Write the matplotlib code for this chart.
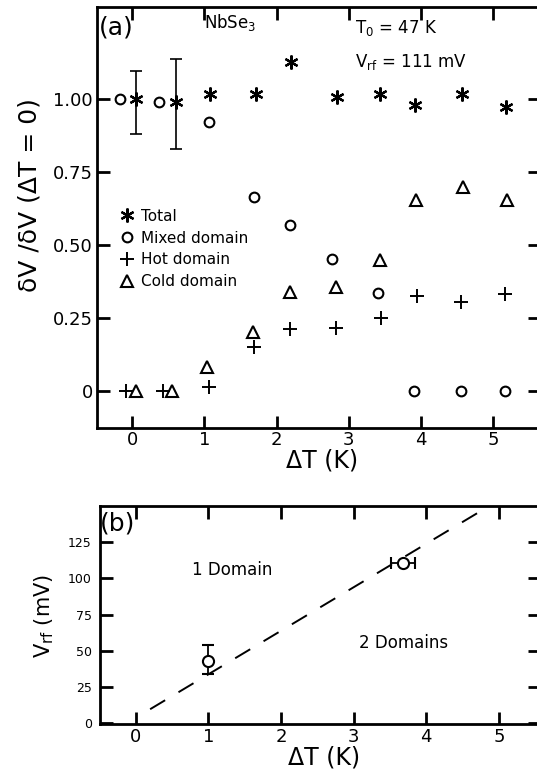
import numpy as np
import matplotlib
matplotlib.use('Agg')
import matplotlib.pyplot as plt

plt.rcParams['font.family'] = 'DejaVu Sans'
plt.rcParams['mathtext.default'] = 'regular'

# panel (a) data: dV/dV(dT=0) vs dT (K)
totalX = [0.05, 0.61, 1.08, 1.71, 2.20, 2.83, 3.43, 3.92, 4.57, 5.18]
totalY = [1.00, 0.989, 1.016, 1.016, 1.128, 1.008, 1.016, 0.979, 1.016, 0.972]
totalErrX = [0.05, 0.61]
totalErrY = [1.00, 0.989]
totalErrLo = [0.121, 0.160]
totalErrHi = [0.096, 0.147]

mixedX = [-0.17, 0.37, 1.06, 1.68, 2.18, 2.77, 3.40, 3.90, 4.56, 5.16]
mixedY = [1.00, 0.991, 0.922, 0.665, 0.568, 0.452, 0.337, 0.0, 0.0, 0.0]

hotX = [-0.09, 0.42, 1.06, 1.68, 2.19, 2.82, 3.45, 3.94, 4.56, 5.17]
hotY = [0.0, 0.0, 0.015, 0.150, 0.211, 0.217, 0.251, 0.325, 0.304, 0.332]

coldX = [0.05, 0.55, 1.04, 1.67, 2.18, 2.82, 3.43, 3.93, 4.58, 5.19]
coldY = [0.0, 0.0, 0.083, 0.203, 0.338, 0.355, 0.449, 0.655, 0.700, 0.655]

# panel (b) data: Vrf threshold vs dT
bX = [0.99, 3.68]
bY = [43.2, 110.5]
bXerr = [0.0, 0.17]
bYlo = [9.4, 0.0]
bYhi = [10.7, 0.0]
lineX = [0.2, 4.75]
lineY = [9.7, 146.5]

fig = plt.figure(figsize=(5.37, 7.71), dpi=100)

# ---------- (a) ----------
ax = fig.add_axes([0.1806, 0.4449, 0.825, 0.546])
ax.plot(totalX, totalY, linestyle='none', marker=(6, 2, 0), ms=10, mew=1.6,
        color='black', label='Total')
ax.errorbar(totalErrX, totalErrY, yerr=[totalErrLo, totalErrHi], fmt='none',
            ecolor='black', elinewidth=1.2, capsize=4, capthick=1.2)
ax.plot(mixedX, mixedY, linestyle='none', marker='o', ms=7, mew=1.5,
        mfc='none', color='black', label='Mixed domain')
ax.plot(hotX, hotY, linestyle='none', marker='+', ms=10, mew=1.4,
        color='black', label='Hot domain')
ax.plot(coldX, coldY, linestyle='none', marker='^', ms=8, mew=1.5,
        mfc='none', color='black', label='Cold domain')

ax.set_xlim(-0.49, 5.65)
ax.set_ylim(-0.127, 1.315)
ax.set_xticks([0, 1, 2, 3, 4, 5])
ax.set_yticks([0, 0.25, 0.5, 0.75, 1.0])
ax.set_yticklabels(['0', '0.25', '0.50', '0.75', '1.00'])
ax.tick_params(direction='in', top=True, right=True, length=9, width=2,
               labelsize=13, pad=2)
ax.tick_params(axis='y', pad=3)
for s in ax.spines.values():
    s.set_linewidth(2)

ax.set_ylabel('δV /δV (ΔT = 0)', fontsize=18, va='center')
ax.yaxis.set_label_coords(-0.152, 0.553)
ax.set_xlabel('ΔT (K)', fontsize=17, va='center')
ax.xaxis.set_label_coords(0.507, -0.078)

ax.text(-0.22, 1.245, '(a)', fontsize=18, ha='center', va='center')
ax.text(1.0, 1.262, r'NbSe$_3$', fontsize=12, ha='left', va='center')
ax.text(3.09, 1.243, r'T$_0$ = 47 K', fontsize=12, ha='left', va='center')
ax.text(3.09, 1.127, r'V$_{rf}$ = 111 mV', fontsize=12, ha='left', va='center')

ax.legend(loc='upper left', bbox_to_anchor=(0.05, 0.521), frameon=False,
          fontsize=11, handlelength=1.0, handletextpad=0.4,
          labelspacing=0.45, borderpad=0, borderaxespad=0)

# ---------- (b) ----------
bx = fig.add_axes([0.1862, 0.0606, 0.82, 0.2831])
bx.plot(lineX, lineY, color='black', lw=1.4, dashes=(9, 8))
bx.errorbar(bX, bY, xerr=bXerr, yerr=[bYlo, bYhi], fmt='o', ms=8, mew=1.5,
            mfc='white', color='black', ecolor='black', elinewidth=1.3,
            capsize=4, capthick=1.3)

bx.set_xlim(-0.49, 5.57)
bx.set_ylim(-0.7, 150)
bx.set_xticks([0, 1, 2, 3, 4, 5])
bx.set_yticks([0, 25, 50, 75, 100, 125])
bx.tick_params(direction='in', top=True, right=True, length=9, width=2,
               labelsize=13, pad=3)
bx.tick_params(axis='y', labelsize=9, pad=6)
for s in bx.spines.values():
    s.set_linewidth(2)

bx.set_ylabel(r'V$_{rf}$ (mV)', fontsize=15, va='center')
bx.yaxis.set_label_coords(-0.126, 0.496)
bx.set_xlabel('ΔT (K)', fontsize=17, va='center')
bx.xaxis.set_label_coords(0.508, -0.154)

bx.text(-0.25, 138, '(b)', fontsize=18, ha='center', va='center')
bx.text(0.78, 106, '1 Domain', fontsize=12, ha='left', va='center')
bx.text(3.08, 55.5, '2 Domains', fontsize=12, ha='left', va='center')

fig.savefig('out.png', dpi=100)
